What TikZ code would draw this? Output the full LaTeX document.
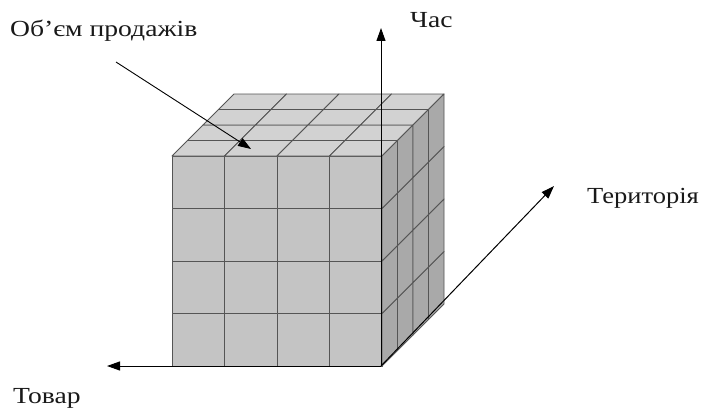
\documentclass[tikz,border=0pt]{standalone}
\usepackage{fontspec}
\setmainfont{Liberation Serif}
\usetikzlibrary{arrows.meta}
\definecolor{frontc}{HTML}{C4C4C4}
\definecolor{topc}{HTML}{D2D2D2}
\definecolor{sidec}{HTML}{A9A9A9}
\definecolor{gridc}{HTML}{555555}
\tikzset{
  cell/.style={draw=gridc, line width=0.9pt, line join=round},
  axis/.style={draw=black, line width=1pt, -{Triangle[length=13pt,width=9pt]}},
  lbl/.style={font=\fontsize{23}{27}\selectfont, inner sep=0pt, text=black!90, xscale=1.2, anchor=base west}
}
\begin{document}
\begin{tikzpicture}[x=1pt,y=-1pt]
\path[use as bounding box, fill=white] (0,0) rectangle (706,412);
\def\ox{172}\def\oy{366}\def\a{52.5}\def\d{15.5}
% front face
\foreach \i in {0,...,3}{\foreach \j in {0,...,3}{
  \filldraw[cell, fill=frontc] (\ox+\i*\a,\oy-\j*\a) rectangle ++(\a,-\a);
}}
% top face
\foreach \i in {0,...,3}{\foreach \k in {0,...,3}{
  \filldraw[cell, fill=topc] (\ox+\i*\a+\k*\d,\oy-4*\a-\k*\d) -- ++(\a,0) -- ++(\d,-\d) -- ++(-\a,0) -- cycle;
}}
% side face
\foreach \k in {0,...,3}{\foreach \j in {0,...,3}{
  \filldraw[cell, fill=sidec] (\ox+4*\a+\k*\d,\oy-\j*\a-\k*\d) -- ++(\d,-\d) -- ++(0,-\a) -- ++(-\d,\d) -- cycle;
}}
% axes
\coordinate (O) at (381,366);
\coordinate (tT) at (381,28);
\coordinate (tG) at (107,366);
\coordinate (tR) at (554,186);
\draw[axis] (O) -- (tT);
\draw[axis] (O) -- (tG);
\draw[axis] (O) -- (tR);
% labels
\node[lbl] (chas) at (410,28) {Час};
\node[lbl, xscale=0.96] (ter) at (587,203) {Територія};
\node[lbl] (tov) at (13,403) {Товар};
\node[lbl] (obs) at (10,37) {Об’єм продажів};
\coordinate (p0) at (116,62);
\coordinate (p1) at (251,149);
\draw[axis, line width=0.9pt] (p0) -- (p1);
\end{tikzpicture}
\end{document}
